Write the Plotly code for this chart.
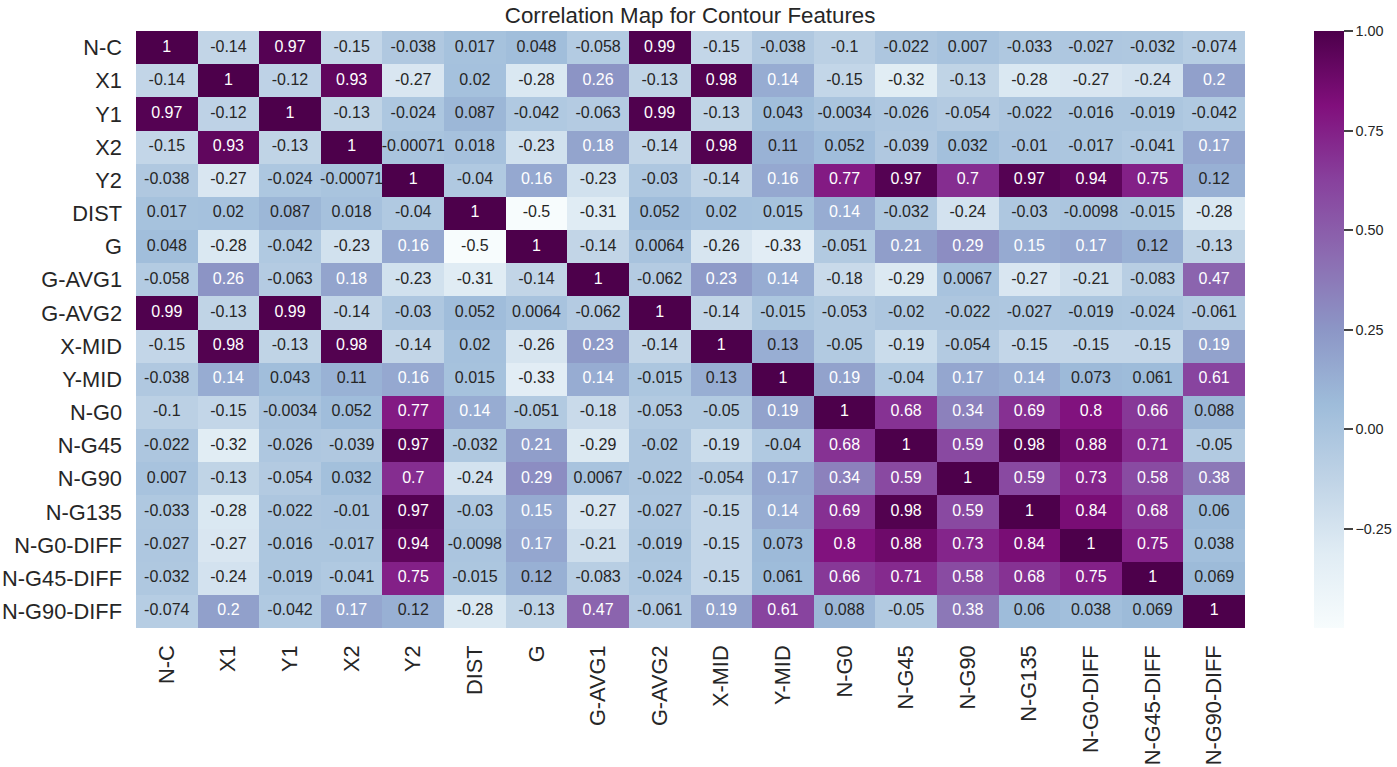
import plotly.graph_objects as go

features = ["N-C","X1","Y1","X2","Y2","DIST","G","G-AVG1","G-AVG2","X-MID","Y-MID","N-G0","N-G45","N-G90","N-G135","N-G0-DIFF","N-G45-DIFF","N-G90-DIFF"]

row_nc   = ["1","-0.14","0.97","-0.15","-0.038","0.017","0.048","-0.058","0.99","-0.15","-0.038","-0.1","-0.022","0.007","-0.033","-0.027","-0.032","-0.074"]
row_x1   = ["-0.14","1","-0.12","0.93","-0.27","0.02","-0.28","0.26","-0.13","0.98","0.14","-0.15","-0.32","-0.13","-0.28","-0.27","-0.24","0.2"]
row_y1   = ["0.97","-0.12","1","-0.13","-0.024","0.087","-0.042","-0.063","0.99","-0.13","0.043","-0.0034","-0.026","-0.054","-0.022","-0.016","-0.019","-0.042"]
row_x2   = ["-0.15","0.93","-0.13","1","-0.00071","0.018","-0.23","0.18","-0.14","0.98","0.11","0.052","-0.039","0.032","-0.01","-0.017","-0.041","0.17"]
row_y2   = ["-0.038","-0.27","-0.024","-0.00071","1","-0.04","0.16","-0.23","-0.03","-0.14","0.16","0.77","0.97","0.7","0.97","0.94","0.75","0.12"]
row_dist = ["0.017","0.02","0.087","0.018","-0.04","1","-0.5","-0.31","0.052","0.02","0.015","0.14","-0.032","-0.24","-0.03","-0.0098","-0.015","-0.28"]
row_g    = ["0.048","-0.28","-0.042","-0.23","0.16","-0.5","1","-0.14","0.0064","-0.26","-0.33","-0.051","0.21","0.29","0.15","0.17","0.12","-0.13"]
row_ga1  = ["-0.058","0.26","-0.063","0.18","-0.23","-0.31","-0.14","1","-0.062","0.23","0.14","-0.18","-0.29","0.0067","-0.27","-0.21","-0.083","0.47"]
row_ga2  = ["0.99","-0.13","0.99","-0.14","-0.03","0.052","0.0064","-0.062","1","-0.14","-0.015","-0.053","-0.02","-0.022","-0.027","-0.019","-0.024","-0.061"]
row_xm   = ["-0.15","0.98","-0.13","0.98","-0.14","0.02","-0.26","0.23","-0.14","1","0.13","-0.05","-0.19","-0.054","-0.15","-0.15","-0.15","0.19"]
row_ym   = ["-0.038","0.14","0.043","0.11","0.16","0.015","-0.33","0.14","-0.015","0.13","1","0.19","-0.04","0.17","0.14","0.073","0.061","0.61"]
row_g0   = ["-0.1","-0.15","-0.0034","0.052","0.77","0.14","-0.051","-0.18","-0.053","-0.05","0.19","1","0.68","0.34","0.69","0.8","0.66","0.088"]
row_g45  = ["-0.022","-0.32","-0.026","-0.039","0.97","-0.032","0.21","-0.29","-0.02","-0.19","-0.04","0.68","1","0.59","0.98","0.88","0.71","-0.05"]
row_g90  = ["0.007","-0.13","-0.054","0.032","0.7","-0.24","0.29","0.0067","-0.022","-0.054","0.17","0.34","0.59","1","0.59","0.73","0.58","0.38"]
row_g135 = ["-0.033","-0.28","-0.022","-0.01","0.97","-0.03","0.15","-0.27","-0.027","-0.15","0.14","0.69","0.98","0.59","1","0.84","0.68","0.06"]
row_g0d  = ["-0.027","-0.27","-0.016","-0.017","0.94","-0.0098","0.17","-0.21","-0.019","-0.15","0.073","0.8","0.88","0.73","0.84","1","0.75","0.038"]
row_g45d = ["-0.032","-0.24","-0.019","-0.041","0.75","-0.015","0.12","-0.083","-0.024","-0.15","0.061","0.66","0.71","0.58","0.68","0.75","1","0.069"]
row_g90d = ["-0.074","0.2","-0.042","0.17","0.12","-0.28","-0.13","0.47","-0.061","0.19","0.61","0.088","-0.05","0.38","0.06","0.038","0.069","1"]

labels = [row_nc,row_x1,row_y1,row_x2,row_y2,row_dist,row_g,row_ga1,row_ga2,row_xm,row_ym,row_g0,row_g45,row_g90,row_g135,row_g0d,row_g45d,row_g90d]
values = [[float(s) for s in r] for r in labels]

bupu = ["#f7fcfd","#e0ecf4","#bfd3e6","#9ebcda","#8c96c6","#8c6bb1","#88419d","#810f7c","#4d004b"]
ZMIN, ZMAX = -0.5, 1.0

def lum(hexc):
    c = [int(hexc[i:i+2],16)/255 for i in (1,3,5)]
    c = [x/12.92 if x<=0.03928 else ((x+0.055)/1.055)**2.4 for x in c]
    return 0.2126*c[0]+0.7152*c[1]+0.0722*c[2]

def cell_color(v):
    t = (v-ZMIN)/(ZMAX-ZMIN)*(len(bupu)-1)
    i = min(int(t), len(bupu)-2)
    f = t-i
    a = [int(bupu[i][k:k+2],16) for k in (1,3,5)]
    b = [int(bupu[i+1][k:k+2],16) for k in (1,3,5)]
    m = [round(a[k]+(b[k]-a[k])*f) for k in range(3)]
    return "#%02x%02x%02x" % tuple(m)

xs, ys, ts, cols = [], [], [], []
for r, row in zip(features, labels):
    for c, s in zip(features, row):
        xs.append(c); ys.append(r); ts.append(s)
        cols.append("#ffffff" if lum(cell_color(float(s))) < 0.408 else "#262626")

FONT = "Liberation Sans, Arial, sans-serif"
n = len(features)
fig = go.Figure()
fig.add_trace(go.Heatmap(
    z=values, x=features, y=features, zmin=ZMIN, zmax=ZMAX, hoverongaps=False,
    colorscale=[[i/(len(bupu)-1), c] for i, c in enumerate(bupu)],
    colorbar=dict(thickness=30, len=1, lenmode="fraction", y=0, yanchor="bottom", x=1.0622, xanchor="left",
                  xpad=0, ypad=0, outlinewidth=0, tickmode="array",
                  tickvals=[-0.25,0,0.25,0.5,0.75,1.0],
                  ticktext=["\u22120.25","0.00","0.25","0.50","0.75","1.00"],
                  ticks="outside", ticklen=9, tickwidth=1.5, tickcolor="#444444",
                  tickfont=dict(size=14.4, color="#262626", family=FONT)),
))
fig.add_trace(go.Scatter(x=xs, y=ys, text=ts, mode="text", hoverinfo="skip", showlegend=False,
                         textposition="middle center",
                         textfont=dict(size=16, color=cols, family=FONT)))
fig.update_layout(
    width=1397, height=767, autosize=False,
    margin=dict(l=136, r=152, t=31, b=139, autoexpand=False),
    paper_bgcolor="white", plot_bgcolor="white",
    title=dict(text="Correlation Map for Contour Features", x=0.494, xanchor="center", y=0.98, yanchor="middle",
               font=dict(size=22.3, color="#262626", family=FONT)),
    xaxis=dict(range=[-0.5, n-0.5], tickangle=-90, tickfont=dict(size=21.8, color="#262626", family=FONT), ticks="", showgrid=False,
               zeroline=False, showline=False, ticklabelstandoff=12, automargin=False),
    yaxis=dict(range=[n-0.5, -0.5], tickfont=dict(size=21.8, color="#262626", family=FONT), ticks="", showgrid=False,
               zeroline=False, showline=False, ticklabelstandoff=13, automargin=False),
)
fig.write_html("out.html", config={"displayModeBar": False},
               post_script="document.body.style.margin='0';document.body.style.overflow='hidden';")
